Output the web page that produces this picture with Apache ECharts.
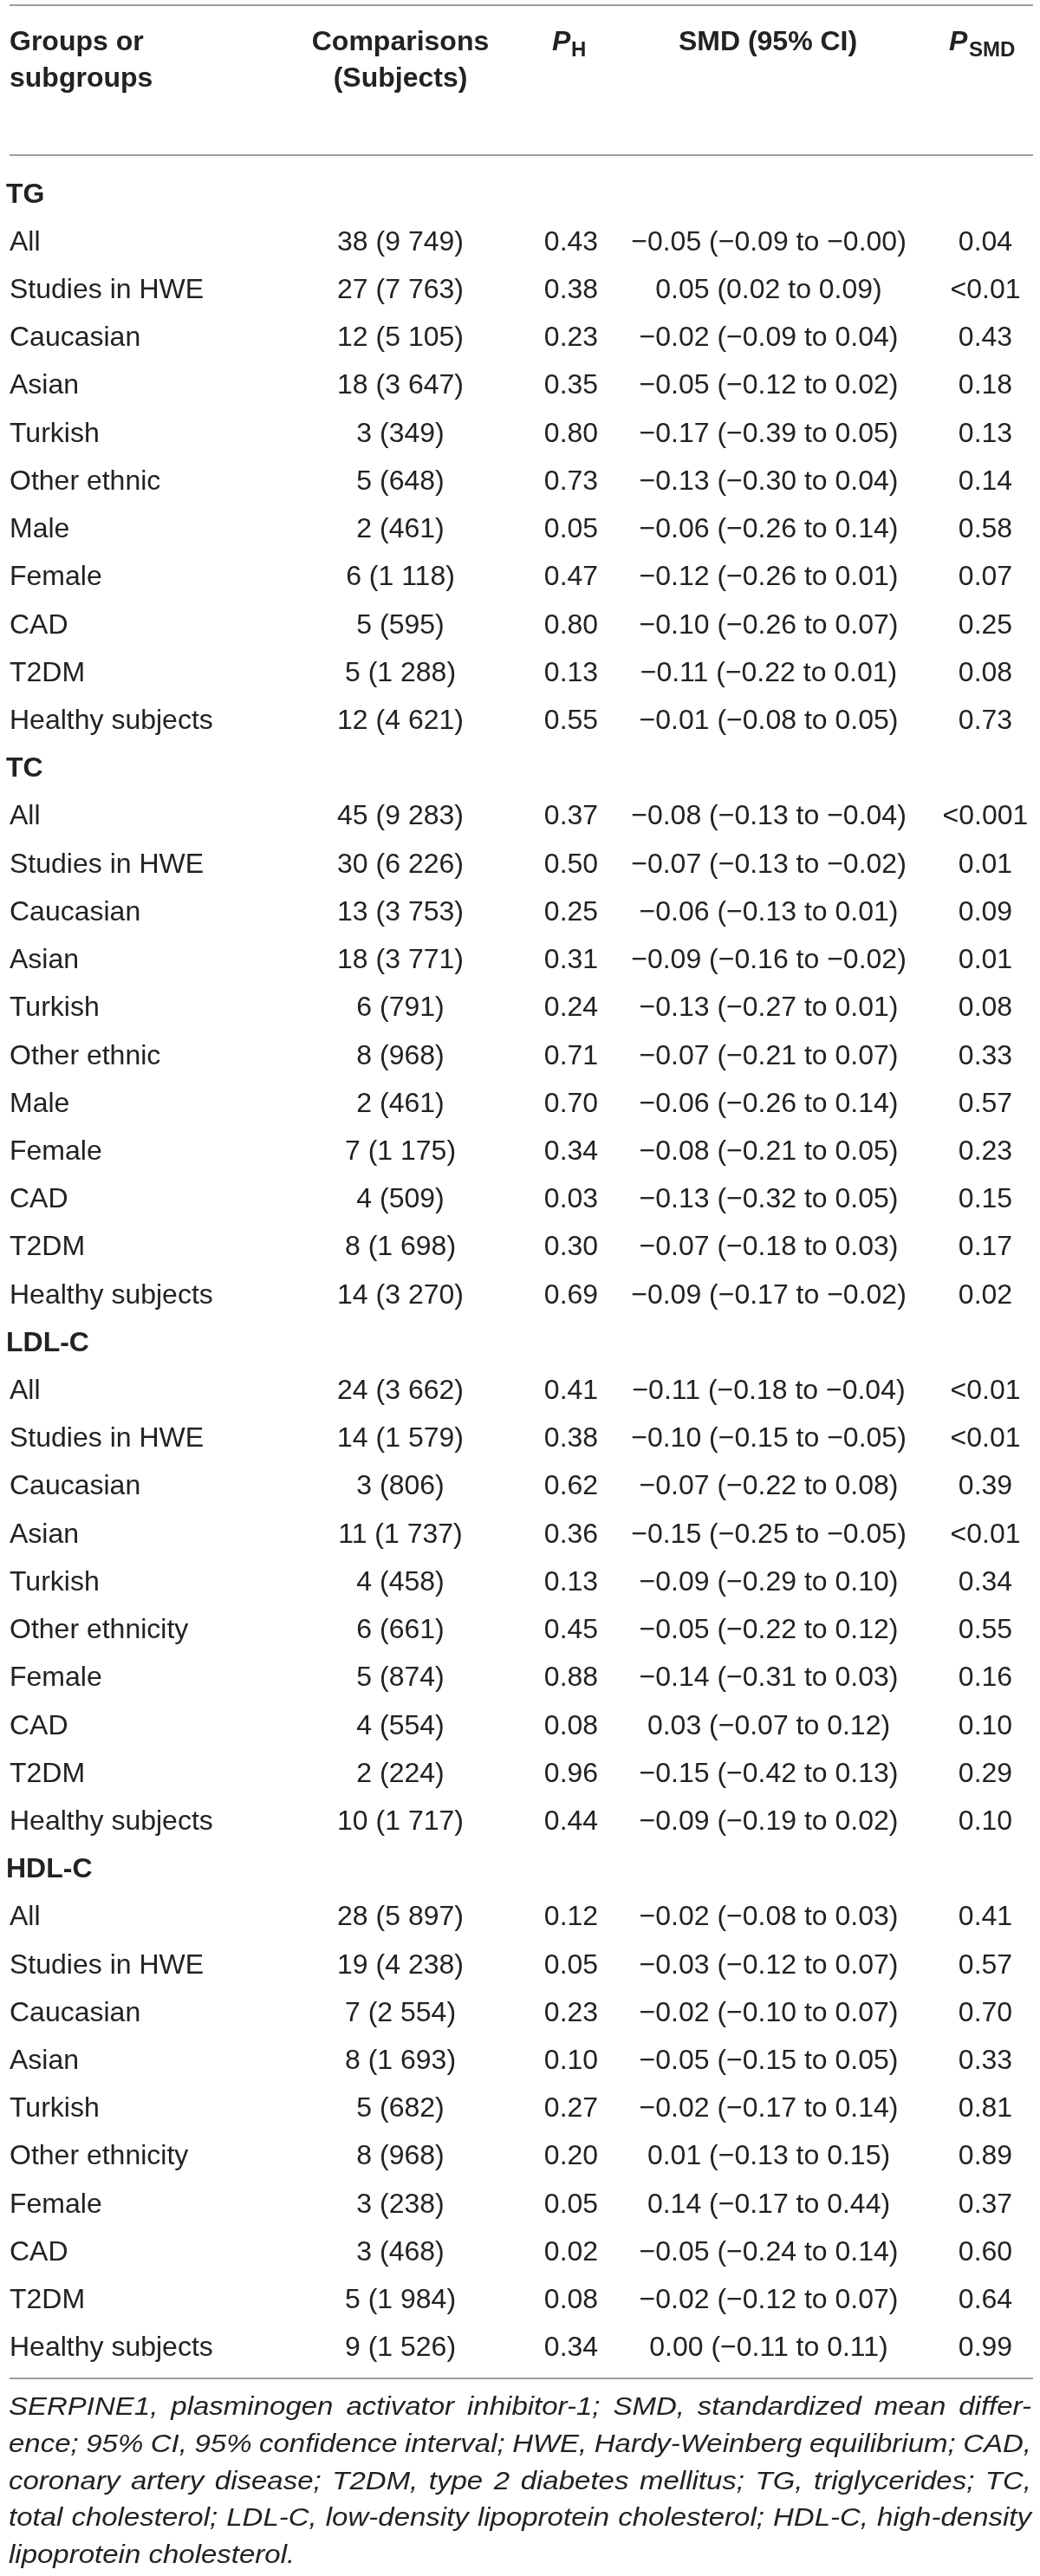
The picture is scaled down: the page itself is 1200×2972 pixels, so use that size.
<!DOCTYPE html>
<html>
<head>
<meta charset="utf-8">
<script src="https://cdn.jsdelivr.net/npm/echarts@6/dist/echarts.min.js"></script>
<style>
	html, body { margin: 0; padding: 0; background: #fff; }
	#table { width: 1200px; height: 2972px; }
</style>
</head>
<body>
<div id="table"></div>
<script>
// 表格数据：每个分组一组数组
var sectionNames = ['TG', 'TC', 'LDL-C', 'HDL-C'];

// TG
var tgGroups = ['All', 'Studies in HWE', 'Caucasian', 'Asian', 'Turkish', 'Other ethnic', 'Male', 'Female', 'CAD', 'T2DM', 'Healthy subjects'];
var tgStudies = [38, 27, 12, 18, 3, 5, 2, 6, 5, 5, 12];
var tgSubjects = [9749, 7763, 5105, 3647, 349, 648, 461, 1118, 595, 1288, 4621];
var tgPH = [0.43, 0.38, 0.23, 0.35, 0.80, 0.73, 0.05, 0.47, 0.80, 0.13, 0.55];
var tgSMD = [-0.05, 0.05, -0.02, -0.05, -0.17, -0.13, -0.06, -0.12, -0.10, -0.11, -0.01];
var tgLower = [-0.09, 0.02, -0.09, -0.12, -0.39, -0.30, -0.26, -0.26, -0.26, -0.22, -0.08];
var tgUpper = [-0.00, 0.09, 0.04, 0.02, 0.05, 0.04, 0.14, 0.01, 0.07, 0.01, 0.05];
var tgPSMD = ['0.04', '<0.01', '0.43', '0.18', '0.13', '0.14', '0.58', '0.07', '0.25', '0.08', '0.73'];

// TC
var tcGroups = ['All', 'Studies in HWE', 'Caucasian', 'Asian', 'Turkish', 'Other ethnic', 'Male', 'Female', 'CAD', 'T2DM', 'Healthy subjects'];
var tcStudies = [45, 30, 13, 18, 6, 8, 2, 7, 4, 8, 14];
var tcSubjects = [9283, 6226, 3753, 3771, 791, 968, 461, 1175, 509, 1698, 3270];
var tcPH = [0.37, 0.50, 0.25, 0.31, 0.24, 0.71, 0.70, 0.34, 0.03, 0.30, 0.69];
var tcSMD = [-0.08, -0.07, -0.06, -0.09, -0.13, -0.07, -0.06, -0.08, -0.13, -0.07, -0.09];
var tcLower = [-0.13, -0.13, -0.13, -0.16, -0.27, -0.21, -0.26, -0.21, -0.32, -0.18, -0.17];
var tcUpper = [-0.04, -0.02, 0.01, -0.02, 0.01, 0.07, 0.14, 0.05, 0.05, 0.03, -0.02];
var tcPSMD = ['<0.001', '0.01', '0.09', '0.01', '0.08', '0.33', '0.57', '0.23', '0.15', '0.17', '0.02'];

// LDL-C
var ldlGroups = ['All', 'Studies in HWE', 'Caucasian', 'Asian', 'Turkish', 'Other ethnicity', 'Female', 'CAD', 'T2DM', 'Healthy subjects'];
var ldlStudies = [24, 14, 3, 11, 4, 6, 5, 4, 2, 10];
var ldlSubjects = [3662, 1579, 806, 1737, 458, 661, 874, 554, 224, 1717];
var ldlPH = [0.41, 0.38, 0.62, 0.36, 0.13, 0.45, 0.88, 0.08, 0.96, 0.44];
var ldlSMD = [-0.11, -0.10, -0.07, -0.15, -0.09, -0.05, -0.14, 0.03, -0.15, -0.09];
var ldlLower = [-0.18, -0.15, -0.22, -0.25, -0.29, -0.22, -0.31, -0.07, -0.42, -0.19];
var ldlUpper = [-0.04, -0.05, 0.08, -0.05, 0.10, 0.12, 0.03, 0.12, 0.13, 0.02];
var ldlPSMD = ['<0.01', '<0.01', '0.39', '<0.01', '0.34', '0.55', '0.16', '0.10', '0.29', '0.10'];

// HDL-C
var hdlGroups = ['All', 'Studies in HWE', 'Caucasian', 'Asian', 'Turkish', 'Other ethnicity', 'Female', 'CAD', 'T2DM', 'Healthy subjects'];
var hdlStudies = [28, 19, 7, 8, 5, 8, 3, 3, 5, 9];
var hdlSubjects = [5897, 4238, 2554, 1693, 682, 968, 238, 468, 1984, 1526];
var hdlPH = [0.12, 0.05, 0.23, 0.10, 0.27, 0.20, 0.05, 0.02, 0.08, 0.34];
var hdlSMD = [-0.02, -0.03, -0.02, -0.05, -0.02, 0.01, 0.14, -0.05, -0.02, 0.00];
var hdlLower = [-0.08, -0.12, -0.10, -0.15, -0.17, -0.13, -0.17, -0.24, -0.12, -0.11];
var hdlUpper = [0.03, 0.07, 0.07, 0.05, 0.14, 0.15, 0.44, 0.14, 0.07, 0.11];
var hdlPSMD = ['0.41', '0.57', '0.70', '0.33', '0.81', '0.89', '0.37', '0.60', '0.64', '0.99'];

var footnoteLines = [
	'SERPINE1, plasminogen activator inhibitor-1; SMD, standardized mean differ-',
	'ence; 95% CI, 95% confidence interval; HWE, Hardy-Weinberg equilibrium; CAD,',
	'coronary artery disease; T2DM, type 2 diabetes mellitus; TG, triglycerides; TC,',
	'total cholesterol; LDL-C, low-density lipoprotein cholesterol; HDL-C, high-density',
	'lipoprotein cholesterol.'
];

// 样式
var fontFamily = '"Liberation Sans", Arial, Helvetica, sans-serif';
var textColor = '#222';
var ruleColor = '#9e9e9e';
var columnX = [11, 462, 659, 887, 1137];
var sectionX = 7;

function fmt(v) {
	var s = Math.abs(v).toFixed(2);
	return (v < 0 || Object.is(v, -0)) ? '\u2212' + s : s;
}
function thousands(n) {
	return String(n).replace(/\B(?=(\d{3})+(?!\d))/g, ' ');
}

var sections = [
	[tgGroups, tgStudies, tgSubjects, tgPH, tgSMD, tgLower, tgUpper, tgPSMD],
	[tcGroups, tcStudies, tcSubjects, tcPH, tcSMD, tcLower, tcUpper, tcPSMD],
	[ldlGroups, ldlStudies, ldlSubjects, ldlPH, ldlSMD, ldlLower, ldlUpper, ldlPSMD],
	[hdlGroups, hdlStudies, hdlSubjects, hdlPH, hdlSMD, hdlLower, hdlUpper, hdlPSMD]
];

var tableRows = [];
sections.forEach(function (s, k) {
	tableRows.push({section: true, label: sectionNames[k]});
	s[0].forEach(function (g, i) {
		tableRows.push({
			section: false,
			cells: [
				g,
				s[1][i] + ' (' + thousands(s[2][i]) + ')',
				s[3][i].toFixed(2),
				fmt(s[4][i]) + ' (' + fmt(s[5][i]) + ' to ' + fmt(s[6][i]) + ')',
				s[7][i]
			]
		});
	});
});

function cellText(x, y, text, align, weight, size, italic) {
	return {
		type: 'text',
		x: x,
		y: y,
		style: {
			text: text,
			fontSize: size || 32,
			fontWeight: weight || 'normal',
			fontStyle: italic ? 'italic' : 'normal',
			fontFamily: fontFamily,
			fill: textColor,
			textAlign: align,
			textVerticalAlign: 'middle'
		}
	};
}

function renderRow(params, api) {
	var idx = api.value(1);
	var row = tableRows[idx];
	var y = api.coord([0, idx])[1];
	var children = [];
	if (row.section) {
		children.push(cellText(api.coord([sectionX, idx])[0], y, row.label, 'left', 'bold'));
	} else {
		row.cells.forEach(function (txt, c) {
			children.push(cellText(api.coord([columnX[c], idx])[0], y, txt, c === 0 ? 'left' : 'center'));
		});
	}
	return {type: 'group', children: children};
}

// 表头和横线
var graphics = [
	{type: 'line', shape: {x1: 11, y1: 6, x2: 1192, y2: 6}, style: {stroke: ruleColor, lineWidth: 2}},
	{type: 'line', shape: {x1: 11, y1: 179, x2: 1192, y2: 179}, style: {stroke: ruleColor, lineWidth: 2}},
	{type: 'line', shape: {x1: 11, y1: 2744, x2: 1192, y2: 2744}, style: {stroke: ruleColor, lineWidth: 2}},
	cellText(11, 49, 'Groups or', 'left', 'bold'),
	cellText(11, 91, 'subgroups', 'left', 'bold'),
	cellText(462, 49, 'Comparisons', 'center', 'bold'),
	cellText(462, 91, '(Subjects)', 'center', 'bold'),
	cellText(637, 49, 'P', 'left', 'bold', 32, true),
	cellText(659, 58, 'H', 'left', 'bold', 24),
	cellText(886, 49, 'SMD (95% CI)', 'center', 'bold'),
	cellText(1095, 49, 'P', 'left', 'bold', 32, true),
	cellText(1118, 58, 'SMD', 'left', 'bold', 24)
];

// 注释：两端对齐
var noteSize = 30, noteScale = 1.1;
var ctx = document.createElement('canvas').getContext('2d');
ctx.font = 'italic normal ' + noteSize + 'px ' + fontFamily;
footnoteLines.forEach(function (line, k) {
	var words = line.split(' ');
	var widths = words.map(function (w) { return ctx.measureText(w).width * noteScale; });
	var total = widths.reduce(function (a, b) { return a + b; }, 0);
	var last = k === footnoteLines.length - 1;
	var gap = last ? ctx.measureText(' ').width * noteScale : (1180 - total) / (words.length - 1);
	var x = 10;
	var y = 2777.7 + 42.8 * k;
	words.forEach(function (w, i) {
		var t = cellText(x, y, w, 'left', 'normal', noteSize, true);
		t.scaleX = noteScale;
		graphics.push(t);
		x += widths[i] + gap;
	});
});

var myChart = echarts.init(document.getElementById('table'));
var option = {
	animation: false,
	backgroundColor: '#fff',
	grid: {left: 0, right: 0, top: 197.2, bottom: 234.9},
	xAxis: {type: 'value', min: 0, max: 1200, show: false},
	yAxis: {
		type: 'category',
		inverse: true,
		show: false,
		data: tableRows.map(function (r, i) { return String(i); })
	},
	series: [{
		type: 'custom',
		silent: true,
		renderItem: renderRow,
		encode: {x: 0, y: 1},
		data: tableRows.map(function (r, i) { return [0, i]; })
	}],
	graphic: graphics
};
myChart.setOption(option);
</script>
</body>
</html>
